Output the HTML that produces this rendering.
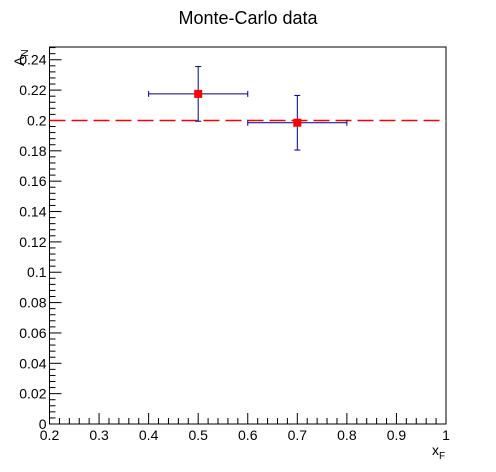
<!DOCTYPE html>
<html><head><meta charset="utf-8"><style>body{margin:0;background:#fff}svg{display:block}text{font-family:"Liberation Sans",sans-serif}</style></head>
<body>
<svg id="c" width="496" height="472" xmlns="http://www.w3.org/2000/svg"></svg>
<script>
const xs=[0.5,0.7];
const ys=[0.2175,0.1985];
const xerr=[0.1,0.1];
const yerr=[0.018,0.018];
const refLine=[0.2];
const xTicks=[0.2,0.3,0.4,0.5,0.6,0.7,0.8,0.9,1];
const xTickLabels=["0.2","0.3","0.4","0.5","0.6","0.7","0.8","0.9","1"];
const yTicks=[0,0.02,0.04,0.06,0.08,0.1,0.12,0.14,0.16,0.18,0.2,0.22,0.24];
const yTickLabels=["0","0.02","0.04","0.06","0.08","0.1","0.12","0.14","0.16","0.18","0.2","0.22","0.24"];
const svg=document.getElementById('c');const NS='http://www.w3.org/2000/svg';
const L=49.5,R=446,T=47,B=424,X0=0.2,X1=1,Y0=0,Y1=0.2484;
const sx=v=>L+(v-X0)/(X1-X0)*(R-L), sy=v=>B-(v-Y0)/(Y1-Y0)*(B-T);
function mk(t,a,p){const e=document.createElementNS(NS,t);for(const k in a)e.setAttribute(k,a[k]);(p||svg).appendChild(e);return e;}
function ln(x1,y1,x2,y2,s,w,p){return mk('line',{x1,y1,x2,y2,stroke:s,'stroke-width':w||1},p);}
let t=mk('text',{x:248,y:24,'text-anchor':'middle','font-size':18});t.textContent='Monte-Carlo data';

const fr=mk('rect',{x:L,y:T,width:R-L,height:B-T,fill:'none',stroke:'#000','stroke-width':1});

const ax=mk('g',{});
for(let v=0.2;v<=1.0001;v+=0.02){const x=sx(v);const maj=Math.abs(Math.round(v*10)-v*10)<1e-6;ln(x,B,x,B-(maj?11:6),'#000',1,ax);}
xTicks.forEach((v,i)=>{const e=mk('text',{x:sx(v),y:B+16,'text-anchor':'middle','font-size':14},ax);e.textContent=xTickLabels[i];});
const ay=mk('g',{});
for(let k=0;k*0.004<=Y1;k++){const y=sy(k*0.004);ln(L,y,L+(k%5==0?12:6),y,'#000',1,ay);}
yTicks.forEach((v,i)=>{const e=mk('text',{x:L-3,y:sy(v)+5,'text-anchor':'end','font-size':14},ay);e.textContent=yTickLabels[i];});
const xt=mk('text',{x:432,y:455,'font-size':14});xt.innerHTML='x<tspan font-size="10" dy="4">F</tspan>';

const yt=mk('text',{transform:'translate(24,66) rotate(-90)','font-size':14});yt.innerHTML='A<tspan font-size="10" dy="4">N</tspan>';

refLine.forEach(v=>{const l=ln(L,sy(v),R,sy(v),'#f00',1.5);l.setAttribute('stroke-dasharray','16,6');
});
xs.forEach((v,i)=>{const g=mk('g',{});

const x=sx(v),y=sy(ys[i]),xa=sx(v-xerr[i]),xb=sx(v+xerr[i]),ya=sy(ys[i]+yerr[i]),yb=sy(ys[i]-yerr[i]);
ln(xa,y,xb,y,'#00008b',1,g);ln(x,ya,x,yb,'#00008b',1,g);
ln(xa,y-3,xa,y+3,'#00008b',1,g);ln(xb,y-3,xb,y+3,'#00008b',1,g);
ln(x-3,ya,x+3,ya,'#00008b',1,g);ln(x-3,yb,x+3,yb,'#00008b',1,g);
mk('rect',{x:x-4,y:y-4,width:8,height:8,fill:'#f00'},g);});
</script>
</body></html>
